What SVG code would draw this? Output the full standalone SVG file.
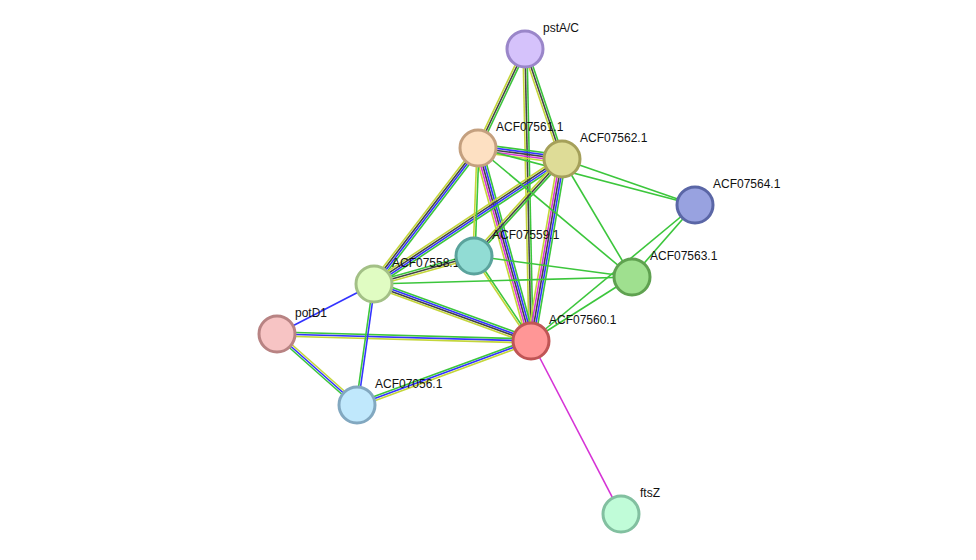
<svg xmlns="http://www.w3.org/2000/svg" width="976" height="560" viewBox="0 0 976 560">
<style>
line{stroke-width:1.6;fill:none}
.g{stroke:#3cc63c}.b{stroke:#3333ff}.k{stroke:#444}.m{stroke:#d633d6}.y{stroke:#c4d63a}
circle{stroke-width:3}
text{font-family:"Liberation Sans",Arial,sans-serif;font-size:12px;fill:#111}
</style>
<rect width="976" height="560" fill="#fff"/>
<g id="connectors">
<!-- P-A1 -->
<line class="g" x1="525" y1="49" x2="478" y2="148" transform="translate(1.8,0.86)"/>
<line class="k" x1="525" y1="49" x2="478" y2="148"/>
<line class="y" x1="525" y1="49" x2="478" y2="148" transform="translate(-1.8,-0.86)"/>
<!-- P-A2 -->
<line class="g" x1="525" y1="49" x2="562" y2="159" transform="translate(1.9,-0.64)"/>
<line class="k" x1="525" y1="49" x2="562" y2="159"/>
<line class="y" x1="525" y1="49" x2="562" y2="159" transform="translate(-1.9,0.64)"/>
<!-- P-A0 -->
<line class="g" x1="525" y1="49" x2="531" y2="341" transform="translate(2,0)"/>
<line class="k" x1="525" y1="49" x2="531" y2="341"/>
<line class="y" x1="525" y1="49" x2="531" y2="341" transform="translate(-2,0)"/>
<!-- A1-A2 -->
<line class="g" x1="478" y1="148" x2="562" y2="159" transform="translate(0.52,-3.96)"/>
<line class="b" x1="478" y1="148" x2="562" y2="159" transform="translate(0.26,-1.98)"/>
<line class="k" x1="478" y1="148" x2="562" y2="159"/>
<line class="m" x1="478" y1="148" x2="562" y2="159" transform="translate(-0.26,1.98)"/>
<line class="y" x1="478" y1="148" x2="562" y2="159" transform="translate(-0.52,3.96)"/>
<!-- A1-A0 -->
<line class="g" x1="478" y1="148" x2="531" y2="341" transform="translate(3.86,-1.06)"/>
<line class="b" x1="478" y1="148" x2="531" y2="341" transform="translate(1.93,-0.53)"/>
<line class="k" x1="478" y1="148" x2="531" y2="341"/>
<line class="m" x1="478" y1="148" x2="531" y2="341" transform="translate(-1.93,0.53)"/>
<line class="y" x1="478" y1="148" x2="531" y2="341" transform="translate(-3.86,1.06)"/>
<!-- A2-A0 -->
<line class="g" x1="562" y1="159" x2="531" y2="341" transform="translate(3.94,0.67)"/>
<line class="b" x1="562" y1="159" x2="531" y2="341" transform="translate(1.97,0.34)"/>
<line class="k" x1="562" y1="159" x2="531" y2="341"/>
<line class="m" x1="562" y1="159" x2="531" y2="341" transform="translate(-1.97,-0.34)"/>
<line class="y" x1="562" y1="159" x2="531" y2="341" transform="translate(-3.94,-0.67)"/>
<!-- A1-A8 -->
<line class="g" x1="478" y1="148" x2="374" y2="284" transform="translate(2.39,1.82)"/>
<line class="b" x1="478" y1="148" x2="374" y2="284" transform="translate(0.8,0.61)"/>
<line class="k" x1="478" y1="148" x2="374" y2="284" transform="translate(-0.8,-0.61)"/>
<line class="y" x1="478" y1="148" x2="374" y2="284" transform="translate(-2.39,-1.82)"/>
<!-- A2-A8 -->
<line class="g" x1="562" y1="159" x2="374" y2="284" transform="translate(1.66,2.5)"/>
<line class="b" x1="562" y1="159" x2="374" y2="284" transform="translate(0.55,0.83)"/>
<line class="k" x1="562" y1="159" x2="374" y2="284" transform="translate(-0.55,-0.83)"/>
<line class="y" x1="562" y1="159" x2="374" y2="284" transform="translate(-1.66,-2.5)"/>
<!-- A2-A9 -->
<line class="g" x1="562" y1="159" x2="474" y2="256" transform="translate(1.48,1.34)"/>
<line class="k" x1="562" y1="159" x2="474" y2="256"/>
<line class="y" x1="562" y1="159" x2="474" y2="256" transform="translate(-1.48,-1.34)"/>
<!-- A1-A9 -->
<line class="g" x1="478" y1="148" x2="474" y2="256" transform="translate(1,0)"/>
<line class="y" x1="478" y1="148" x2="474" y2="256" transform="translate(-1,0)"/>
<!-- A8-A9 -->
<line class="g" x1="374" y1="284" x2="474" y2="256" transform="translate(-0.54,-1.93)"/>
<line class="k" x1="374" y1="284" x2="474" y2="256"/>
<line class="y" x1="374" y1="284" x2="474" y2="256" transform="translate(0.54,1.93)"/>
<!-- A8-A0 -->
<line class="g" x1="374" y1="284" x2="531" y2="341" transform="translate(1.02,-2.82)"/>
<line class="b" x1="374" y1="284" x2="531" y2="341" transform="translate(0.34,-0.94)"/>
<line class="k" x1="374" y1="284" x2="531" y2="341" transform="translate(-0.34,0.94)"/>
<line class="y" x1="374" y1="284" x2="531" y2="341" transform="translate(-1.02,2.82)"/>
<!-- D-A0 -->
<line class="g" x1="277" y1="334" x2="531" y2="341" transform="translate(0,-2)"/>
<line class="b" x1="277" y1="334" x2="531" y2="341"/>
<line class="y" x1="277" y1="334" x2="531" y2="341" transform="translate(0,2)"/>
<!-- D-A8 -->
<line class="b" x1="277" y1="334" x2="374" y2="284"/>
<!-- D-A6 -->
<line class="g" x1="277" y1="334" x2="357" y2="405" transform="translate(-1.33,1.5)"/>
<line class="b" x1="277" y1="334" x2="357" y2="405"/>
<line class="y" x1="277" y1="334" x2="357" y2="405" transform="translate(1.33,-1.5)"/>
<!-- A8-A6 -->
<line class="g" x1="374" y1="284" x2="357" y2="405" transform="translate(-1,0)"/>
<line class="b" x1="374" y1="284" x2="357" y2="405" transform="translate(1,0)"/>
<!-- A6-A0 -->
<line class="g" x1="357" y1="405" x2="531" y2="341" transform="translate(-0.69,-1.88)"/>
<line class="b" x1="357" y1="405" x2="531" y2="341"/>
<line class="y" x1="357" y1="405" x2="531" y2="341" transform="translate(0.69,1.88)"/>
<!-- A9-A0 -->
<line class="g" x1="474" y1="256" x2="531" y2="341" transform="translate(0.83,-0.56)"/>
<line class="y" x1="474" y1="256" x2="531" y2="341" transform="translate(-0.83,0.56)"/>
<!-- single green -->
<line class="g" x1="374" y1="284" x2="632" y2="277"/>
<line class="g" x1="474" y1="256" x2="632" y2="277"/>
<line class="g" x1="478" y1="148" x2="632" y2="277"/>
<line class="g" x1="562" y1="159" x2="632" y2="277"/>
<line class="g" x1="562" y1="159" x2="695" y2="205"/>
<line class="g" x1="478" y1="148" x2="695" y2="205"/>
<line class="g" x1="632" y1="277" x2="531" y2="341"/>
<line class="g" x1="695" y1="205" x2="531" y2="341"/>
<line class="g" x1="632" y1="277" x2="695" y2="205"/>
<line class="m" x1="531" y1="341" x2="621" y2="514"/>
</g>
<g id="pstAC"><circle cx="525" cy="49" r="18" fill="#d5c2fb" stroke="#9a86c9"/><text x="543" y="32">pstA/C</text></g>
<g id="ACF07561"><circle cx="478" cy="148" r="18" fill="#fde0c2" stroke="#c4a07f"/><text x="496" y="131">ACF07561.1</text></g>
<g id="ACF07562"><circle cx="562" cy="159" r="18" fill="#dedc97" stroke="#a5a05a"/><text x="580" y="142">ACF07562.1</text></g>
<g id="ACF07564"><circle cx="695" cy="205" r="18" fill="#98a2e0" stroke="#5a66a6"/><text x="713" y="188">ACF07564.1</text></g>
<g id="ACF07558"><circle cx="374" cy="284" r="18" fill="#e0fcc2" stroke="#a3c086"/><text x="392" y="267">ACF07558.1</text></g>
<g id="ACF07559"><circle cx="474" cy="256" r="18" fill="#91dcd4" stroke="#5aa39c"/><text x="492" y="239">ACF07559.1</text></g>
<g id="ACF07563"><circle cx="632" cy="277" r="18" fill="#9fe08f" stroke="#5fa150"/><text x="650" y="260">ACF07563.1</text></g>
<g id="potD1"><circle cx="277" cy="334" r="18" fill="#f7c4c4" stroke="#b88383"/><text x="295" y="317">potD1</text></g>
<g id="ACF07560"><circle cx="531" cy="341" r="18" fill="#ff9696" stroke="#c05555"/><text x="549" y="324">ACF07560.1</text></g>
<g id="ACF07056"><circle cx="357" cy="405" r="18" fill="#c0e8fc" stroke="#82a8c0"/><text x="375" y="388">ACF07056.1</text></g>
<g id="ftsZ"><circle cx="621" cy="514" r="18" fill="#c0fcd8" stroke="#82c0a0"/><text x="640" y="497">ftsZ</text></g>
</svg>
